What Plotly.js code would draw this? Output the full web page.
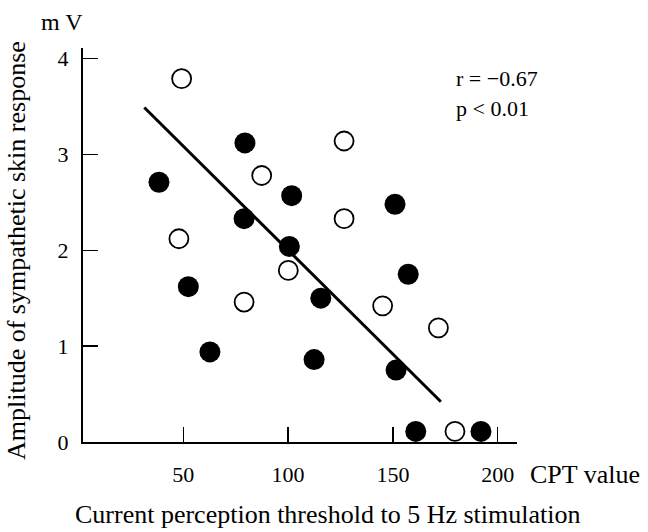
<!DOCTYPE html>
<html>
<head>
<meta charset="utf-8">
<script src="https://cdn.plot.ly/plotly-3.0.1.min.js"></script>
<style>
  html, body { margin: 0; padding: 0; background: #ffffff; }
  #chart { width: 648px; height: 532px; }
</style>
</head>
<body>
<div id="chart"></div>
<script>
// Open circles (group 1)
const openX = [49.2, 87.4, 47.9, 126.7, 126.7, 79.0, 100.1, 145.1, 171.7, 179.6];
const openY = [3.79, 2.78, 2.12, 3.14, 2.33, 1.46, 1.79, 1.42, 1.19, 0.11];
// Filled circles (group 2)
const filledX = [79.4, 38.4, 101.7, 79.0, 100.6, 151.0, 52.4, 62.7, 157.3, 115.6, 112.4, 151.5, 160.9, 192.0];
const filledY = [3.12, 2.71, 2.57, 2.33, 2.04, 2.48, 1.62, 0.94, 1.75, 1.50, 0.86, 0.75, 0.11, 0.11];
// Regression line end points
const lineX = [31.4, 172.9];
const lineY = [3.49, 0.42];
// Ticks
const xTicks = [50, 100, 150, 200];
const yTicks = [0, 1, 2, 3, 4];
// Texts
const xTitle = "Current perception threshold to 5 Hz stimulation";
const yTitle = "Amplitude of sympathetic skin response";
const yUnit = "m V";
const xUnit = "CPT value";
const statR = "r = −0.67";
const statP = "p < 0.01";

const FONT = "Liberation Serif, Times New Roman, serif";

const traces = [
  {
    x: lineX, y: lineY, type: "scatter", mode: "lines",
    line: { color: "#000000", width: 3 },
    hoverinfo: "skip", showlegend: false
  },
  {
    x: filledX, y: filledY, type: "scatter", mode: "markers",
    marker: { symbol: "circle", size: 21, color: "#000000", line: { width: 0 } },
    showlegend: false
  },
  {
    x: openX, y: openY, type: "scatter", mode: "markers",
    marker: { symbol: "circle", size: 19, color: "#ffffff", line: { color: "#000000", width: 1.8 } },
    showlegend: false
  }
];

const layout = {
  width: 648, height: 532,
  margin: { l: 83, r: 131, t: 48, b: 90, pad: 0 },
  paper_bgcolor: "#ffffff", plot_bgcolor: "#ffffff",
  font: { family: FONT, color: "#000000", size: 22 },
  showlegend: false,
  xaxis: {
    range: [2.15, 209.2],
    showline: true, linewidth: 2, linecolor: "#000000",
    ticks: "inside", ticklen: 15, tickwidth: 1.5, tickcolor: "#000000",
    tickvals: xTicks, ticktext: xTicks.map(String),
    tickfont: { family: FONT, size: 22, color: "#000000" },
    ticklabelstandoff: 12,
    showgrid: false, zeroline: false
  },
  yaxis: {
    range: [0, 4.11],
    showline: true, linewidth: 2, linecolor: "#000000",
    ticks: "inside", ticklen: 15, tickwidth: 1.5, tickcolor: "#000000",
    tickvals: yTicks, ticktext: yTicks.map(String),
    tickfont: { family: FONT, size: 22, color: "#000000" },
    ticklabelstandoff: 8,
    showgrid: false, zeroline: false
  },
  annotations: [
    { text: xTitle, xref: "paper", yref: "paper", x: (327 - 83) / 434, y: (442 - 514) / 394,
      xanchor: "center", yanchor: "middle", showarrow: false, borderpad: 0,
      font: { family: FONT, size: 26, color: "#000000" } },
    { text: yTitle, xref: "paper", yref: "paper", x: (17 - 83) / 434, y: (442 - 251) / 394,
      xanchor: "center", yanchor: "middle", textangle: -90, showarrow: false, borderpad: 0,
      font: { family: FONT, size: 26, color: "#000000" } },
    { text: yUnit, xref: "paper", yref: "paper", x: (62 - 83) / 434, y: (442 - 22) / 394,
      xanchor: "center", yanchor: "middle", showarrow: false, font: { family: FONT, size: 24, color: "#000000" } },
    { text: xUnit, xref: "paper", yref: "paper", x: (528 - 83) / 434, y: (442 - 474) / 394,
      xanchor: "left", yanchor: "middle", showarrow: false, font: { family: FONT, size: 26, color: "#000000" } },
    { text: statR, xref: "paper", yref: "paper", x: (454 - 83) / 434, y: (442 - 79) / 394,
      xanchor: "left", yanchor: "middle", showarrow: false, font: { family: FONT, size: 22, color: "#000000" } },
    { text: statP, xref: "paper", yref: "paper", x: (454 - 83) / 434, y: (442 - 108) / 394,
      xanchor: "left", yanchor: "middle", showarrow: false, font: { family: FONT, size: 22, color: "#000000" } }
  ]
};

Plotly.newPlot("chart", traces, layout, { displayModeBar: false, staticPlot: true });
</script>
</body>
</html>
